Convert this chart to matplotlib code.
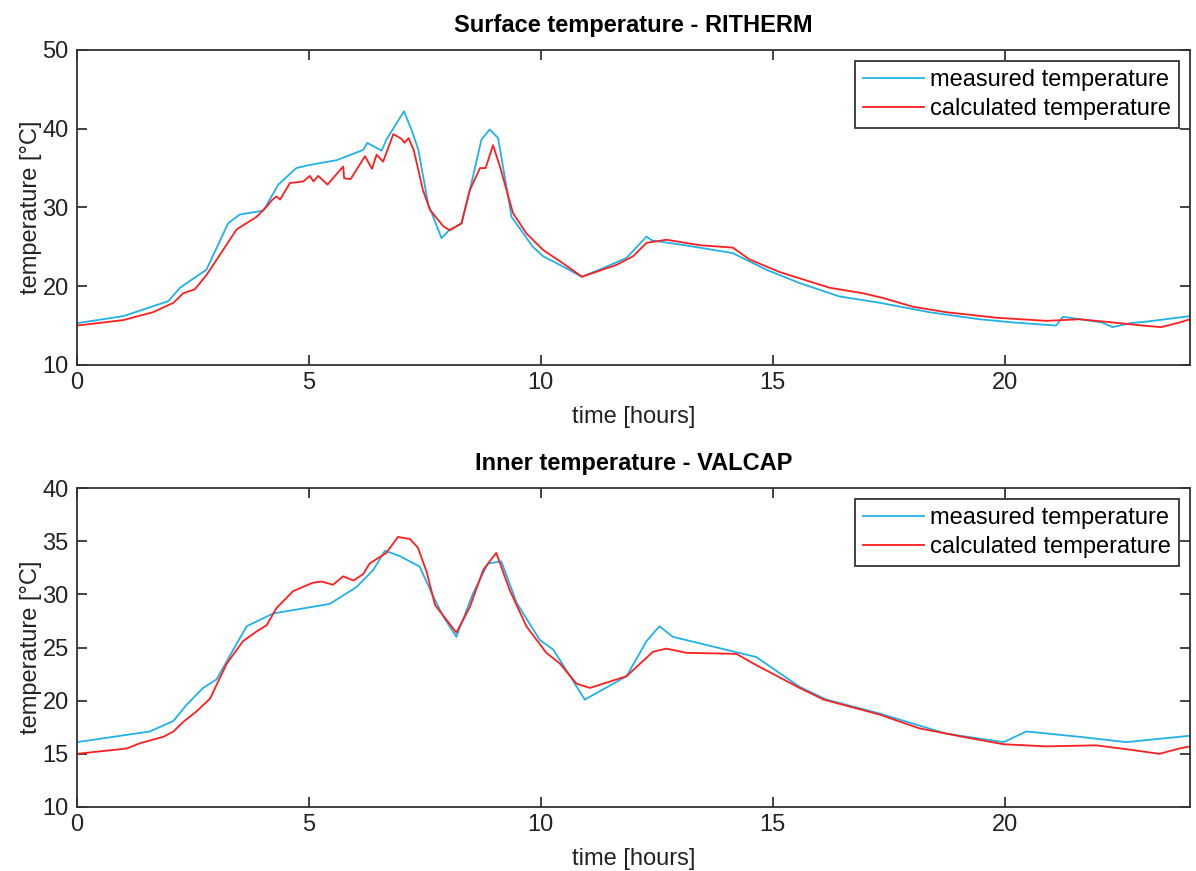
import numpy as np
import matplotlib
matplotlib.use("Agg")
import matplotlib.pyplot as plt

plt.rcParams['font.family'] = ['Liberation Sans', 'DejaVu Sans']

# surface temperature - RITHERM
surf_meas_h = [0, 1.0, 1.97, 2.22, 2.79, 3.26, 3.51, 4.02, 4.34, 4.73, 5.02, 5.6, 6.17, 6.26,
               6.57, 6.67, 7.05, 7.23, 7.36, 7.57, 7.86, 8.04, 8.29, 8.47, 8.72, 8.90, 9.08,
               9.37, 9.83, 10.05, 10.48, 10.88, 11.27, 11.85, 12.28, 12.4, 13.0, 14.14, 14.86,
               15.58, 16.44, 17.3, 18.38, 19.46, 20.18, 21.11, 21.26, 21.4, 22.1, 22.33, 22.7,
               23.06, 24.0]
surf_meas_t = [15.3, 16.2, 18.1, 19.8, 22.1, 28.0, 29.1, 29.6, 32.9, 35.0, 35.4, 36.0, 37.3, 38.2,
               37.2, 38.6, 42.2, 39.6, 37.3, 30.5, 26.1, 27.2, 27.9, 32.2, 38.6, 39.9, 38.8,
               28.8, 25.0, 23.8, 22.5, 21.2, 22.1, 23.6, 26.3, 25.8, 25.3, 24.2, 22.1,
               20.4, 18.7, 17.9, 16.7, 15.8, 15.4, 15.0, 16.1, 16.0, 15.4, 14.8, 15.3,
               15.5, 16.2]

surf_calc_h = [0, 1.0, 1.64, 2.08, 2.29, 2.54, 2.79, 3.15, 3.44, 3.87, 4.09, 4.2, 4.30, 4.38,
               4.59, 4.88, 5.02, 5.1, 5.2, 5.4, 5.74, 5.76, 5.9, 6.21, 6.36, 6.46, 6.6, 6.82,
               7.0, 7.06, 7.15, 7.26, 7.46, 7.61, 7.9, 8.04, 8.29, 8.47, 8.69, 8.81, 8.97,
               9.12, 9.40, 9.69, 10.05, 10.48, 10.89, 11.63, 11.99, 12.28, 12.71, 13.43,
               14.14, 14.5, 15.15, 15.58, 16.23, 16.95, 17.38, 18.02, 18.74, 19.82, 20.9,
               21.62, 22.33, 22.98, 23.38, 23.78, 24.0]
surf_calc_t = [15.0, 15.7, 16.7, 17.9, 19.1, 19.6, 21.4, 24.6, 27.2, 28.8, 30.1, 30.9, 31.4, 31.0,
               33.1, 33.3, 34.0, 33.3, 34.0, 32.9, 35.2, 33.7, 33.6, 36.5, 34.9, 36.7, 35.8, 39.3,
               38.7, 38.2, 38.8, 37.3, 32.2, 29.7, 27.6, 27.1, 28.0, 32.2, 35.0, 35.0, 37.9,
               35.2, 29.3, 26.7, 24.6, 22.9, 21.2, 22.7, 23.8, 25.5, 25.9, 25.2,
               24.9, 23.4, 21.8, 21.0, 19.8, 19.1, 18.5, 17.4, 16.7, 16.0, 15.6,
               15.8, 15.4, 15.0, 14.8, 15.4, 15.8]

# inner temperature - VALCAP
inner_meas_h = [0, 1.57, 2.08, 2.36, 2.72, 3.01, 3.37, 3.66, 4.23, 5.45, 6.03, 6.39, 6.64, 6.96,
                7.39, 7.68, 7.9, 8.18, 8.54, 8.86, 9.15, 9.48, 9.98, 10.27, 10.95, 11.85, 12.28,
                12.56, 12.85, 14.65, 15.58, 16.16, 17.3, 18.74, 19.98, 20.47, 21.62, 22.62, 24.0]
inner_meas_t = [16.1, 17.1, 18.1, 19.6, 21.2, 22.0, 24.8, 27.0, 28.2, 29.1, 30.7, 32.3, 34.1, 33.6,
                32.6, 29.8, 27.9, 26.0, 30.1, 32.9, 33.1, 29.2, 25.7, 24.8, 20.1, 22.3, 25.6,
                27.0, 26.0, 24.1, 21.3, 20.1, 18.8, 16.9, 16.1, 17.1, 16.6, 16.1, 16.7]

inner_calc_h = [0, 1.07, 1.36, 1.86, 2.08, 2.29, 2.58, 2.87, 3.23, 3.58, 3.87, 4.09, 4.30, 4.66,
                5.09, 5.28, 5.52, 5.74, 5.96, 6.17, 6.31, 6.67, 6.92, 7.18, 7.35, 7.54, 7.72,
                8.18, 8.47, 8.76, 9.04, 9.33, 9.69, 10.12, 10.41, 10.77, 11.06, 11.85, 12.42,
                12.71, 13.14, 14.22, 14.58, 15.58, 16.1, 17.3, 18.16, 19.1, 19.98, 20.9, 21.97,
                22.69, 23.34, 23.77, 24.0]
inner_calc_t = [15.0, 15.5, 16.0, 16.6, 17.1, 18.0, 19.0, 20.2, 23.5, 25.6, 26.5, 27.1, 28.7, 30.3,
                31.1, 31.2, 30.9, 31.7, 31.3, 31.9, 32.9, 33.9, 35.4, 35.2, 34.4, 32.1, 29.0,
                26.4, 28.8, 32.3, 33.9, 30.4, 27.0, 24.5, 23.5, 21.6, 21.2, 22.3, 24.6,
                24.9, 24.5, 24.4, 23.5, 21.2, 20.1, 18.7, 17.4, 16.6, 15.9, 15.7, 15.8,
                15.4, 15.0, 15.5, 15.7]

blue = '#1EB2E8'
red = '#FF1E1E'
fs = 17

fig = plt.figure(figsize=(11.96, 8.71), dpi=100)
ax1 = fig.add_axes([0.0644, 0.581, 0.9306, 0.3617])
ax2 = fig.add_axes([0.0644, 0.0735, 0.9306, 0.3662])

panels = [(ax1, surf_meas_h, surf_meas_t, surf_calc_h, surf_calc_t,
           'Surface temperature - RITHERM', (10, 50), [10, 20, 30, 40, 50]),
          (ax2, inner_meas_h, inner_meas_t, inner_calc_h, inner_calc_t,
           'Inner temperature - VALCAP', (10, 40), [10, 15, 20, 25, 30, 35, 40])]

for ax, mh, mt, ch, ct, title, ylim, yt in panels:
    ax.plot(mh, mt, color=blue, lw=1.3, label='measured temperature')
    ax.plot(ch, ct, color=red, lw=1.3, label='calculated temperature')
    ax.set_xlim(0, 24)
    ax.set_ylim(*ylim)
    ax.set_xticks([0, 5, 10, 15, 20])
    ax.set_yticks(yt)
    ax.tick_params(direction='in', top=True, right=True, length=7, width=1.2,
                   labelsize=fs, colors='#222222')
    ax.tick_params(axis='x', pad=5)
    ax.tick_params(axis='y', pad=6)
    for s in ax.spines.values():
        s.set_linewidth(1.3)
        s.set_color('#333333')
    ax.set_title(title, fontsize=fs, fontweight='bold', pad=13)
    ax.set_xlabel('time [hours]', fontsize=fs, color='#222222', labelpad=9)
    ax.set_ylabel('temperature [°C]', fontsize=fs, color='#222222', labelpad=0)
    leg = ax.legend(loc='upper right', fontsize=fs, fancybox=False, framealpha=1,
                    edgecolor='#222222', handlelength=2.6, borderaxespad=0.45,
                    borderpad=0.35, labelspacing=0.3, handletextpad=0.25)
    leg.get_frame().set_linewidth(1.2)

fig.savefig('out.png', dpi=100)
